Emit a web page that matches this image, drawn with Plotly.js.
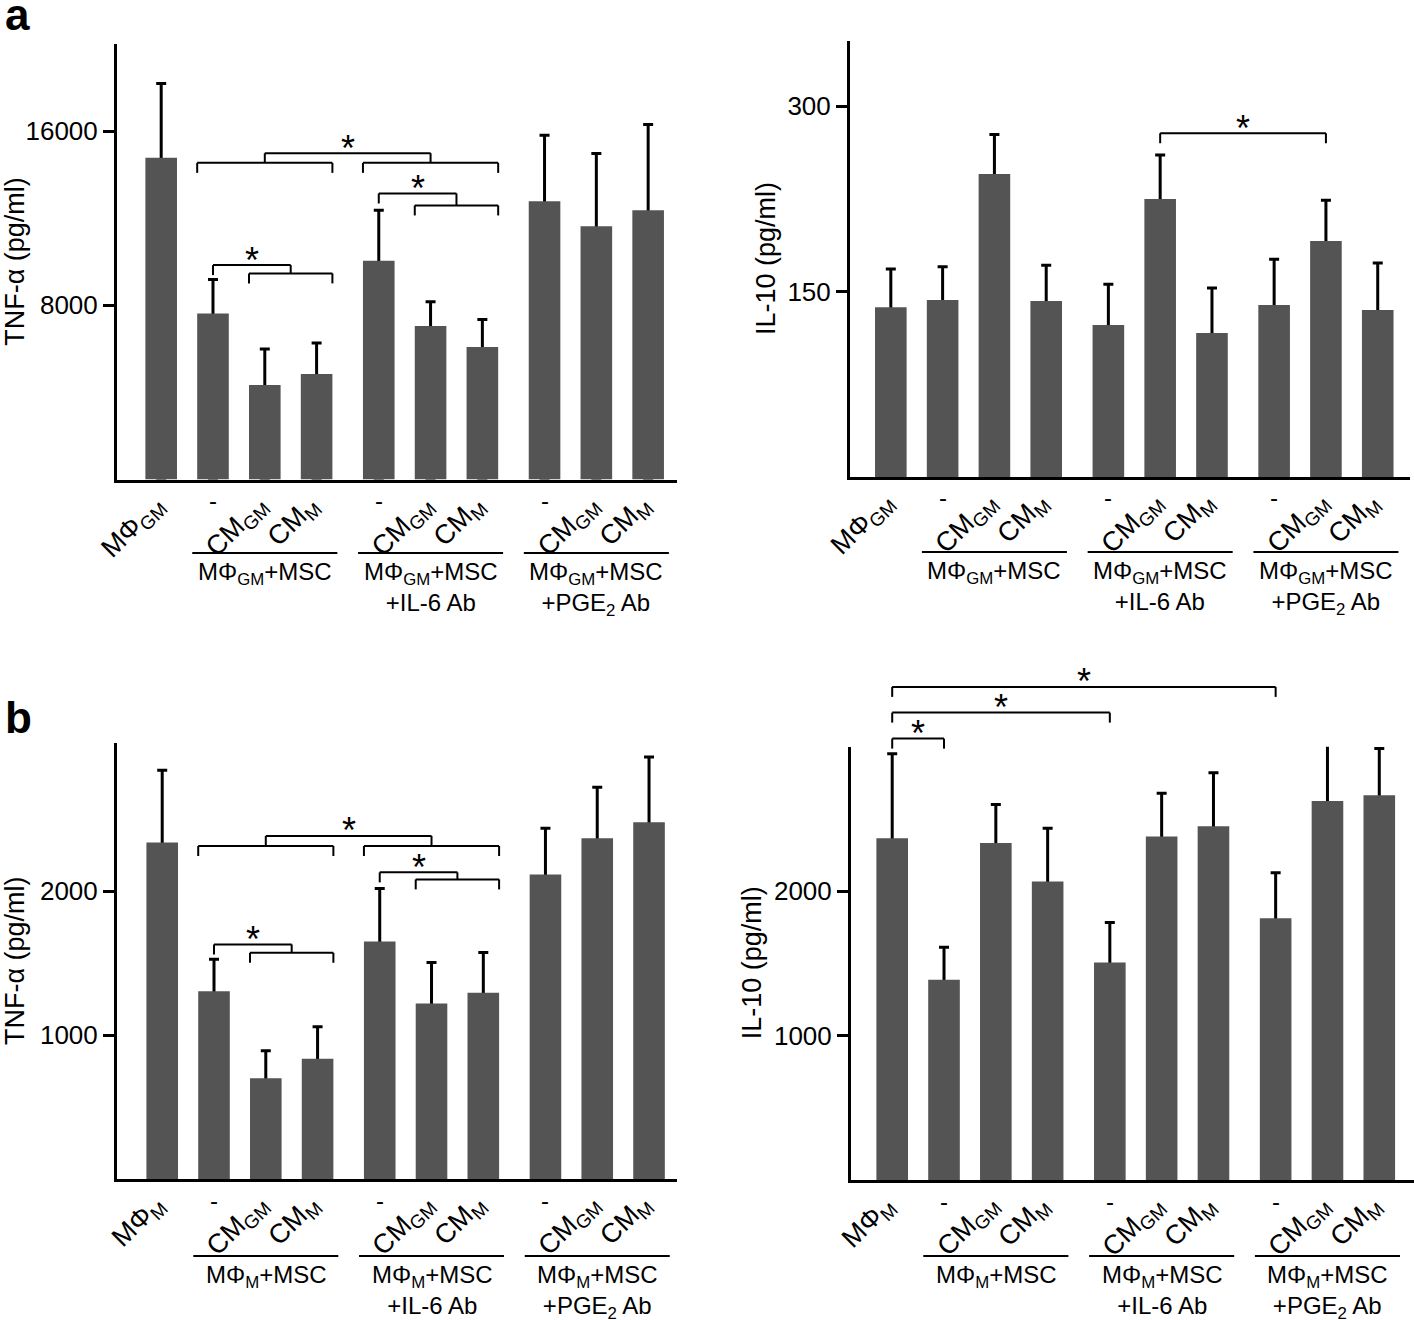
<!DOCTYPE html>
<html><head><meta charset="utf-8">
<script src="https://cdn.plot.ly/plotly-3.0.1.min.js"></script>
<style>body{margin:0;background:#fff}</style>
</head><body><div id="chart" style="width:1414px;height:1320px"></div>
<script>
// ---------- data ----------
const catGM = ["MΦ<sub>GM</sub>", "-", "CM<sub>GM</sub>", "CM<sub>M</sub>", "-", "CM<sub>GM</sub>", "CM<sub>M</sub>", "-", "CM<sub>GM</sub>", "CM<sub>M</sub>"];
const catM  = ["MΦ<sub>M</sub>",  "-", "CM<sub>GM</sub>", "CM<sub>M</sub>", "-", "CM<sub>GM</sub>", "CM<sub>M</sub>", "-", "CM<sub>GM</sub>", "CM<sub>M</sub>"];
const groupOf = [0, 1, 1, 1, 2, 2, 2, 3, 3, 3];
const grpGM = ["MΦ<sub>GM</sub>+MSC", "MΦ<sub>GM</sub>+MSC<br>+IL-6 Ab", "MΦ<sub>GM</sub>+MSC<br>+PGE<sub>2</sub> Ab"];
const grpM  = ["MΦ<sub>M</sub>+MSC",  "MΦ<sub>M</sub>+MSC<br>+IL-6 Ab",  "MΦ<sub>M</sub>+MSC<br>+PGE<sub>2</sub> Ab"];

// a: MΦGM
const tnfGM    = [14771, 7628, 4338, 4842, 10043, 7046, 6082, 12783, 11636, 12370];
const tnfGMErr = [3415, 1561, 1652, 1423, 2327, 1115, 1271, 3030, 3336, 3934];
const il10GM    = [137.2, 143.1, 245.0, 142.3, 122.9, 224.8, 116.4, 139.1, 190.8, 135.0];
const il10GMErr = [31, 27, 32, 29, 33, 35.6, 36.4, 37, 33, 38];
// b: MΦM
const tnfM    = [2338, 1304, 701, 836, 1650, 1219, 1295, 2117, 2368, 2479];
const tnfMErr = [503, 223, 190, 222, 369, 285, 279, 320, 355, 453];
const il10M    = [2367, 1386, 2333, 2067, 1506, 2379, 2450, 1813, 2624, 2663];
const il10MErr = [585, 226, 266, 368, 277, 298, 370, 315, 575, 324];

const ticksTnfGM = [8000, 16000];
const ticksIl10GM = [150, 300];
const ticksB = [1000, 2000];

// significance comparisons (bar indices, heights in data units)
const sigTnfGM = [
  {left: {sub: [1, 3], at: 14541}, right: {sub: [4, 6], at: 14541}, top: 14986},
  {left: {bar: 4}, right: {sub: [5, 6], at: 12586}, top: 13136},
  {left: {bar: 1}, right: {sub: [2, 3], at: 9465}, top: 9846}
];
const sigIl10GM = [
  {left: {bar: 5}, right: {bar: 8}, top: 278}
];
const sigTnfM = [
  {left: {sub: [1, 3], at: 2314}, right: {sub: [4, 6], at: 2314}, top: 2384},
  {left: {bar: 4}, right: {sub: [5, 6], at: 2082}, top: 2131},
  {left: {bar: 1}, right: {sub: [2, 3], at: 1572}, top: 1630}
];
const sigIl10M = [
  {left: {bar: 0}, right: {bar: 1}, top: 3056},
  {left: {bar: 0}, right: {bar: 4}, top: 3236},
  {left: {bar: 0}, right: {bar: 7}, top: 3414}
];

// ---------- layout ----------
const W = 1414, H = 1320;
const F = "Liberation Sans, Arial, Helvetica, sans-serif";
const BW = 0.61;
const BAR = '#545454';
const xPos = groupOf.map((g, i) => i + 0.2 * Math.max(0, g - 1));

const panels = [
  {ax: '',  vals: tnfGM,  errs: tnfGMErr,  cats: catGM, groups: grpGM, xr: [-0.853, 9.957], yr: [0, 20000], xd: [117, 677], yd: [44, 479.5], ticks: ticksTnfGM,  title: 'TNF-α (pg/ml)', titleX: 15,  lineY: 553,  sig: sigTnfGM},
  {ax: '2', vals: il10GM, errs: il10GMErr, cats: catGM, groups: grpGM, xr: [-0.788, 10.023], yr: [0, 352.6], xd: [850, 1410], yd: [41, 477], ticks: ticksIl10GM, title: 'IL-10 (pg/ml)', titleX: 766, lineY: 552, sig: sigIl10GM},
  {ax: '3', vals: tnfM,   errs: tnfMErr,   cats: catM,  groups: grpM,  xr: [-0.873, 9.94],  yr: [0, 3030],  xd: [117, 677], yd: [743, 1179], ticks: ticksB, title: 'TNF-α (pg/ml)', titleX: 15,  lineY: 1256, sig: sigTnfM},
  {ax: '4', vals: il10M,  errs: il10MErr,  cats: catM,  groups: grpM,  xr: [-0.795, 10.07], yr: [0, 3000],  xd: [851, 1414], yd: [746.7, 1180], ticks: ticksB, title: 'IL-10 (pg/ml)', titleX: 752, lineY: 1256, sig: sigIl10M}
];

const traces = [];
const layout = {
  width: W, height: H, margin: {l: 0, r: 0, t: 0, b: 0},
  paper_bgcolor: 'white', plot_bgcolor: 'white', showlegend: false,
  barmode: 'overlay', font: {family: F, color: 'black'},
  shapes: [], annotations: []
};

const py = px => 1 - px / H;

panels.forEach(p => {
  const xa = 'x' + p.ax, ya = 'y' + p.ax;
  layout['xaxis' + p.ax] = {
    domain: [p.xd[0] / W, p.xd[1] / W], range: p.xr, anchor: ya,
    showline: true, linecolor: 'black', linewidth: 3,
    showticklabels: false, ticks: '', showgrid: false, zeroline: false, fixedrange: true
  };
  layout['yaxis' + p.ax] = {
    domain: [1 - p.yd[1] / H, 1 - p.yd[0] / H], range: p.yr, anchor: xa,
    showline: true, linecolor: 'black', linewidth: 3,
    ticks: 'outside', ticklen: 11, tickwidth: 3, tickcolor: 'black',
    tickvals: p.ticks, ticktext: p.ticks.map(String),
    tickfont: {family: F, size: 26, color: 'black'},
    showgrid: false, zeroline: false, fixedrange: true
  };
  // error bars (drawn first, lower part hidden behind bars)
  traces.push({
    type: 'bar', x: xPos, y: p.vals, xaxis: xa, yaxis: ya, width: BW,
    marker: {color: 'rgba(0,0,0,0)'}, hoverinfo: 'skip',
    error_y: {type: 'data', symmetric: false, array: p.errs, arrayminus: p.vals,
              color: 'black', thickness: 3, width: 5}
  });
  traces.push({
    type: 'bar', x: xPos, y: p.vals, xaxis: xa, yaxis: ya, width: BW,
    marker: {color: BAR, line: {width: 0}}
  });

  // y title
  layout.annotations.push({
    xref: 'paper', yref: 'paper', x: p.titleX / W, y: py((p.yd[0] + p.yd[1]) / 2),
    text: p.title, textangle: -90, showarrow: false, xanchor: 'center', yanchor: 'middle',
    font: {family: F, size: 27, color: 'black'}
  });

  // category labels
  p.cats.forEach((c, i) => {
    if (c === '-') {
      layout.annotations.push({
        xref: xa, yref: ya + ' domain', x: xPos[i], y: 0, text: c, showarrow: false,
        xanchor: 'center', yanchor: 'middle', yshift: -21,
        font: {family: F, size: 24, color: 'black'}
      });
    } else {
      layout.annotations.push({
        xref: xa, yref: ya + ' domain', x: xPos[i], y: 0, text: c, showarrow: false,
        textangle: -45, xanchor: 'right', yanchor: 'top', xshift: 13, yshift: -7,
        font: {family: F, size: 27, color: 'black'}
      });
    }
  });

  // group lines and labels
  [1, 2, 3].forEach(g => {
    const idx = groupOf.map((gg, i) => gg === g ? i : -1).filter(i => i >= 0);
    const x0 = xPos[idx[0]] - 0.4, x1 = xPos[idx[idx.length - 1]] + 0.4;
    layout.shapes.push({
      type: 'line', xref: xa, yref: 'paper', x0: x0, x1: x1, y0: py(p.lineY), y1: py(p.lineY),
      line: {color: 'black', width: 2}
    });
    layout.annotations.push({
      xref: xa, yref: 'paper', x: (x0 + x1) / 2, y: py(p.lineY + 3), text: p.groups[g - 1],
      showarrow: false, xanchor: 'center', yanchor: 'top', align: 'center',
      font: {family: F, size: 24, color: 'black'}
    });
  });

  // significance brackets
  const hpx = p.yd[1] - p.yd[0];
  const drop = 10 / hpx;
  const f = v => v / p.yr[1];
  p.sig.forEach(b => {
    const segs = [];
    const end = e => {
      if (e.bar !== undefined) {
        const x = xPos[e.bar];
        segs.push([x, f(b.top), x, f(b.top) - drop]);
        return x;
      }
      const x0 = xPos[e.sub[0]] - BW / 2, x1 = xPos[e.sub[1]] + BW / 2, y = f(e.at);
      segs.push([x0, y - drop, x0, y], [x0, y, x1, y], [x1, y, x1, y - drop]);
      const xm = (x0 + x1) / 2;
      segs.push([xm, y, xm, f(b.top)]);
      return xm;
    };
    const xl = end(b.left), xr = end(b.right);
    segs.push([xl, f(b.top), xr, f(b.top)]);
    segs.forEach(s => layout.shapes.push({
      type: 'line', xref: xa, yref: ya + ' domain', x0: s[0], y0: s[1], x1: s[2], y1: s[3],
      line: {color: 'black', width: 2}
    }));
    layout.annotations.push({
      xref: xa, yref: ya + ' domain', x: (xl + xr) / 2, y: f(b.top), text: '*', showarrow: false,
      xanchor: 'center', yanchor: 'middle', yshift: 5,
      font: {family: F, size: 36, color: 'black'}
    });
  });
});

// panel letters
layout.annotations.push({xref: 'paper', yref: 'paper', x: 3 / W, y: py(15), text: '<b>a</b>', showarrow: false,
  xanchor: 'left', yanchor: 'middle', font: {family: F, size: 44, color: 'black'}});
layout.annotations.push({xref: 'paper', yref: 'paper', x: 3 / W, y: py(717), text: '<b>b</b>', showarrow: false,
  xanchor: 'left', yanchor: 'middle', font: {family: F, size: 44, color: 'black'}});

Plotly.newPlot('chart', traces, layout, {staticPlot: true});
</script>
</body></html>
